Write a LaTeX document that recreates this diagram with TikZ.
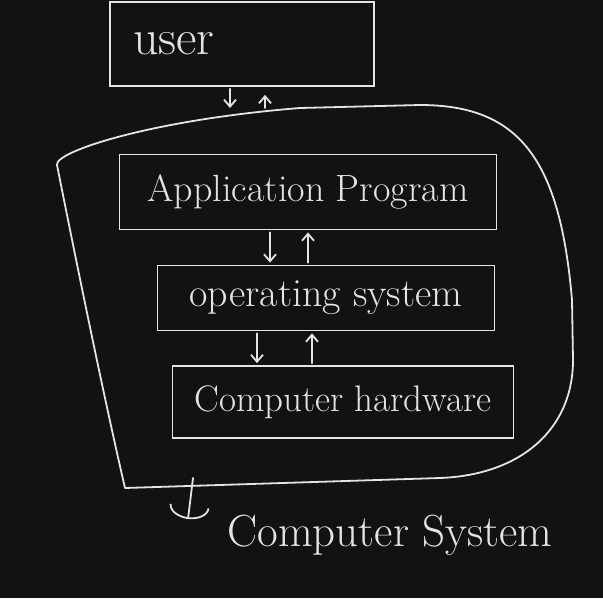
\documentclass[tikz,border=0pt]{standalone}
\usetikzlibrary{arrows.meta}
\definecolor{board}{HTML}{121212}
\definecolor{chalk}{HTML}{E4E4E4}
\begin{document}
\begin{tikzpicture}[x=1pt, y=-1pt]
    % Define styles
    \tikzset{
        layer/.style={draw=chalk, line width=1.8pt, inner sep=0pt, text=chalk, font=\fontsize{38}{42}\selectfont},
        hand/.style={draw=chalk, line width=1.8pt, line cap=round, line join=round},
        flow/.style={hand, -{Straight Barb[length=7pt, width=12pt]}, shorten <=2pt, shorten >=2pt},
        hook/.style={hand, -{Arc Barb[length=13pt, width=40pt]}}
    }

    % Board
    \fill[board] (0,0) rectangle (603,598);
    \useasboundingbox (0,0) rectangle (603,598);

    % User box
    \node[layer, minimum width=264pt, minimum height=84pt, text width=218pt, align=left, font=\fontsize{50}{56}\selectfont] (user) at (242,44) {user};

    % Computer system outline
    \draw[hand] (125,488) .. controls (100,380) and (70,230) .. (57,165)
        .. controls (54,152) and (150,120) .. (300,108)
        -- (420,105) .. controls (520,105) and (560,160) .. (572,300)
        -- (573,360) .. controls (573,430) and (520,475) .. (440,478) -- cycle;
    \coordinate (top) at (245,110);

    % Layers
    \node[layer, minimum width=377pt, minimum height=75pt] (app) at (308,192) {Application Program};
    \node[layer, minimum width=337pt, minimum height=65pt, font=\fontsize{40}{44}\selectfont] (os) at (326,298) {operating system};
    \node[layer, minimum width=341pt, minimum height=72pt, font=\fontsize{37}{42}\selectfont] (hw) at (343,402) {Computer hardware};

    % Arrows
    \draw[flow] ([xshift=-12pt]user.south) -- ([xshift=-12pt]user.south |- top);
    \draw[flow, shorten >=8pt] ([xshift=23pt]user.south |- top) -- ([xshift=23pt]user.south);
    \draw[flow] ([xshift=-38pt]app.south) -- ([xshift=-38pt]app.south |- os.north);
    \draw[flow] ([xshift=0pt]app.south |- os.north) -- ([xshift=0pt]app.south);
    \draw[flow] ([xshift=-69pt]os.south) -- ([xshift=-69pt]os.south |- hw.north);
    \draw[flow] ([xshift=-14pt]os.south |- hw.north) -- ([xshift=-14pt]os.south);

    % Label
    \coordinate (base) at (193,478);
    \coordinate (tip) at (188,519);
    \draw[hook] (base) -- (tip);
    \node[text=chalk, font=\fontsize{45}{50}\selectfont] (sys) at (390,535) {Computer System};
\end{tikzpicture}
\end{document}
